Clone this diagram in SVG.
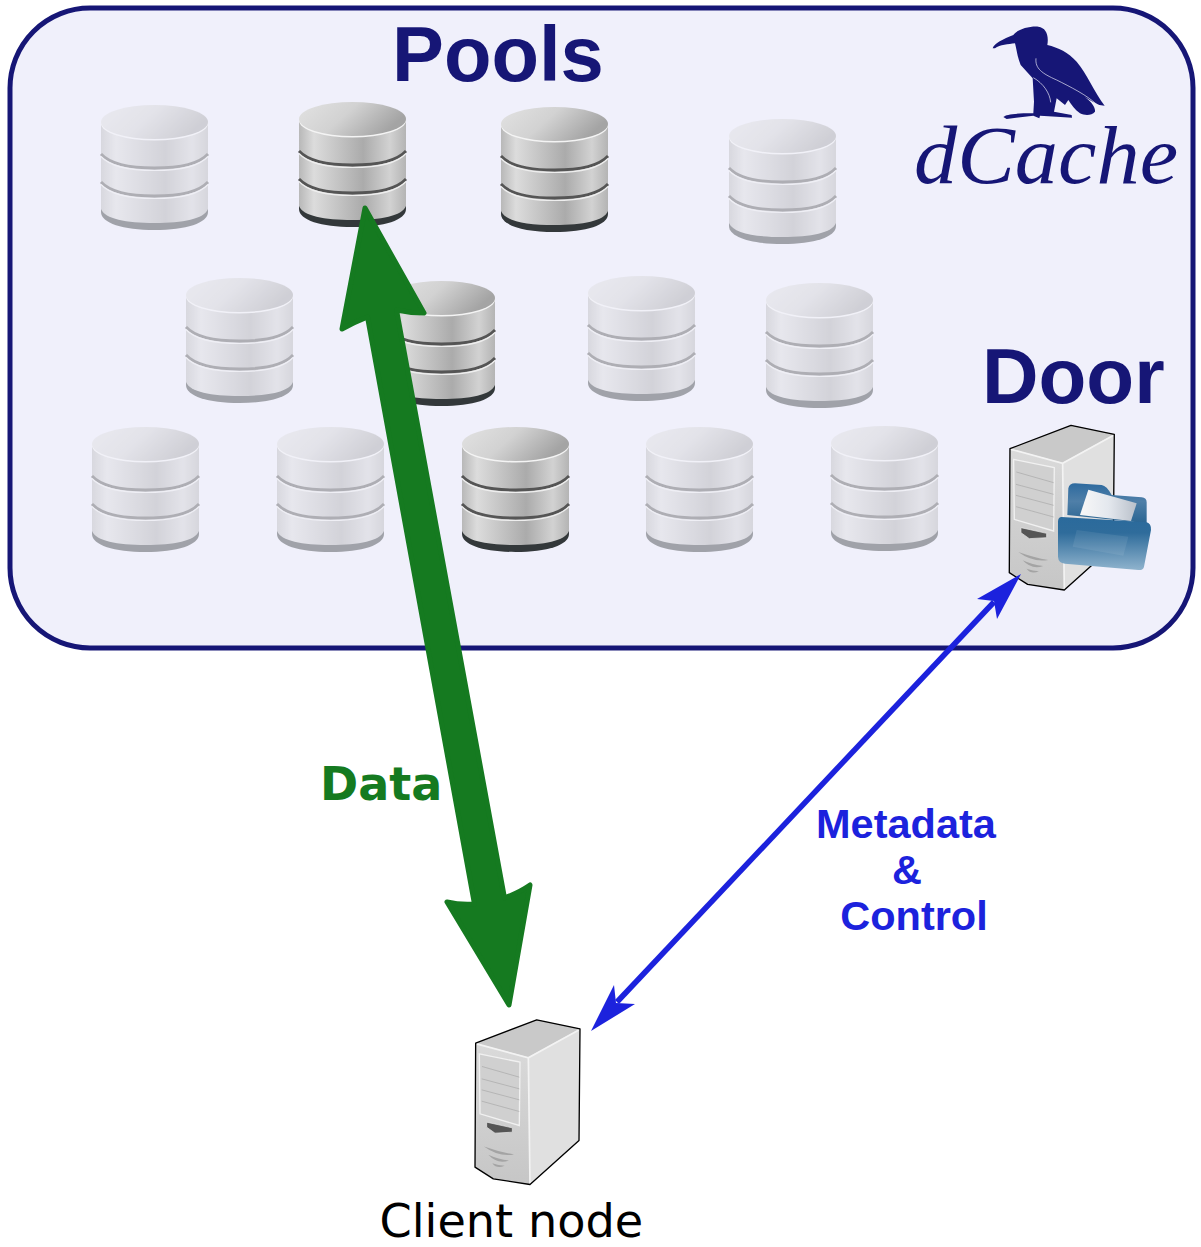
<svg xmlns="http://www.w3.org/2000/svg" width="1201" height="1247" viewBox="0 0 1201 1247">
<style>
.b{font-family:"Liberation Sans",Arial,sans-serif;font-weight:700}
.dj{font-family:"DejaVu Sans",sans-serif}
.light{opacity:.42}
.meta{fill:#1c22dd;font-size:41.5px;text-anchor:middle}
</style>
<defs>
<linearGradient id="side" x1="0" x2="1" y1="0" y2="0">
<stop offset="0" stop-color="#b8b8b8"/><stop offset=".14" stop-color="#dcdcdc"/><stop offset=".6" stop-color="#ababab"/><stop offset=".85" stop-color="#d2d2d2"/><stop offset="1" stop-color="#b4b4b4"/>
</linearGradient>
<linearGradient id="top" x1="0" x2="1" y1="0" y2=".35">
<stop offset="0" stop-color="#e2e2e2"/><stop offset=".5" stop-color="#d2d2d2"/><stop offset="1" stop-color="#a4a4a4"/>
</linearGradient>
<linearGradient id="front" x1="0" x2="0" y1="0" y2="1"><stop offset="0" stop-color="#dadada"/><stop offset="1" stop-color="#c6c6c6"/></linearGradient>
<linearGradient id="fold" x1="0" x2="0" y1="0" y2="1"><stop offset="0" stop-color="#2a6a9c"/><stop offset=".3" stop-color="#2f6c9b"/><stop offset="1" stop-color="#8fb3cd"/></linearGradient>
<linearGradient id="back" x1="0" x2="0" y1="0" y2="1"><stop offset="0" stop-color="#2d6a9f"/><stop offset=".45" stop-color="#4f7fa8"/><stop offset="1" stop-color="#2a6592"/></linearGradient>
<linearGradient id="paper" x1="0" x2="1" y1="0" y2="0"><stop offset="0" stop-color="#f8f8f8"/><stop offset=".5" stop-color="#e4e8ee"/><stop offset="1" stop-color="#b9c0ca"/></linearGradient>
<g id="db">
<path d="M0 107V18H107V107C107 118 85 125 53.500 125C22 125 0 118 0 107Z" fill="#33383a"/>
<path d="M0 18V104C4 114 25 118 53.500 118C82 118 103 114 107 104V18Z" fill="url(#side)"/>
<path d="M0 49C10 60 30 63 53.500 63C77 63 97 60 107 49" fill="none" stroke="#555" stroke-width="2.800"/>
<path d="M0 51.500C10 62.500 30 65.500 53.500 65.500C77 65.500 97 62.500 107 51.500" fill="none" stroke="#eee" stroke-width="1.200"/>
<path d="M0 77C10 88 30 91 53.500 91C77 91 97 88 107 77" fill="none" stroke="#555" stroke-width="2.800"/>
<path d="M0 79.500C10 90.500 30 93.500 53.500 93.500C77 93.500 97 90.500 107 79.500" fill="none" stroke="#eee" stroke-width="1.200"/>
<ellipse cx="53.500" cy="17" rx="53.500" ry="17" fill="#f4f4f4" transform="translate(0 1.500)"/>
<ellipse cx="53.500" cy="17" rx="53.500" ry="17" fill="url(#top)"/>
</g>
<g id="srv">
<path d="M47 98L230 28L360 55L357 390L210 522L100 505L45 470Z" fill="#d8d8d8"/>
<path d="M47 98L230 28L360 55L205 140Z" fill="#c9c9c9"/>
<path d="M205 140L360 55L357 390L210 522Z" fill="#e0e0e0"/>
<path d="M47 98L205 140L210 522L100 505L45 470Z" fill="url(#front)"/>
<path d="M50 100L205 142L358 58M205 142L210 520" fill="none" stroke="#f3f3f3" stroke-width="5"/>
<path d="M47 98L230 28L360 55L357 390L210 522L100 505L45 470Z" fill="none" stroke="#000" stroke-width="4" stroke-linejoin="round"/>
<path d="M58 130L180 155L178 345L60 310Z" fill="#d0d0d0" stroke="#f1f1f1" stroke-width="4"/>
<path d="M66 168L178 200M65 205L178 235M65 238L178 268M65 272L178 303" fill="none" stroke="#a8a8a8" stroke-width="2"/>
<path d="M80 335L157 352V365L105 368L80 350Z" fill="#555" stroke="#ececec" stroke-width="2"/>
<path d="M72 408Q120 425 162 432Q115 440 72 408ZM85 433Q115 447 147 450Q112 462 85 433ZM97 458Q115 465 134 466Q110 476 97 458Z" fill="#a4a4a4"/>
</g>
</defs>
<g id="pool-area"><rect x="10" y="8" width="1183" height="640" rx="80" ry="80" fill="#f0f0fb" stroke="#161676" stroke-width="5"/></g>
<g id="pool-1" class="light"><use href="#db" x="101" y="105"/></g>
<g id="pool-2"><use href="#db" x="299" y="102"/></g>
<g id="pool-3"><use href="#db" x="501" y="107"/></g>
<g id="pool-4" class="light"><use href="#db" x="729" y="119"/></g>
<g id="pool-5" class="light"><use href="#db" x="186" y="278"/></g>
<g id="pool-6"><use href="#db" x="388" y="281"/></g>
<g id="pool-7" class="light"><use href="#db" x="588" y="276"/></g>
<g id="pool-8" class="light"><use href="#db" x="766" y="283"/></g>
<g id="pool-9" class="light"><use href="#db" x="92" y="427"/></g>
<g id="pool-10" class="light"><use href="#db" x="277" y="427"/></g>
<g id="pool-11"><use href="#db" x="462" y="427"/></g>
<g id="pool-12" class="light"><use href="#db" x="646" y="427"/></g>
<g id="pool-13" class="light"><use href="#db" x="831" y="426"/></g>
<g id="logo">
<path transform="translate(900 15) scale(.33333)" d="M278 100C282 85 310 72 340 60C350 45 385 33 415 35C438 38 447 60 442 90C475 98 505 112 530 140C560 175 585 235 614 272L598 270C580 262 560 250 545 240C570 255 587 275 585 290C575 302 555 302 540 295C525 285 515 270 505 255L495 270L470 250L462 290L515 300L516 308L470 305L420 302L418 310L400 302L320 312L310 306C320 298 340 295 400 295L402 260L398 190L362 150C352 125 350 105 345 85C325 88 300 88 285 100Z" fill="#161676"/>
<path transform="translate(900 15) scale(.33333)" d="M408 130C405 160 425 175 470 195C510 215 560 240 590 268M400 188C430 205 450 235 452 262" fill="none" stroke="#f0f0fb" stroke-width="2"/>
<text x="914" y="183" font-family="'Liberation Serif','Times New Roman',serif" font-style="italic" font-size="82" fill="#161676" textLength="264" lengthAdjust="spacingAndGlyphs">dCache</text>
</g>
<g id="door-server">
<use href="#srv" transform="translate(994.300 416) scale(.33333)"/>
<g id="folder" transform="translate(990 415) scale(.33333)">
<path d="M232 300L235 220Q238 205 255 205L335 210Q350 212 365 240L455 247Q470 248 470 262V325Z" fill="url(#back)"/>
<path d="M295 224L440 265L423 318L270 300Z" fill="url(#paper)"/>
<path d="M215 306L470 322Q484 326 483 345L462 455Q460 466 445 465L225 446Q205 444 204 425V320Q204 306 215 306Z" fill="url(#fold)"/>
<path d="M260 345L415 365L400 422L248 395Z" fill="#fff" opacity=".08"/>
</g>
</g>
<g id="client-server"><use href="#srv" transform="translate(460 1010.500) scale(.33333)"/></g>
<g id="connectors">
<path d="M365 208L424 313Q410 313 396.500 310L504.500 898Q520 892 530 885L509 1005L447 902Q460 905 474.500 904L367.500 317Q355 322 342 329Z" fill="#157a20" stroke="#157a20" stroke-width="5" stroke-linejoin="round"/>
<path d="M1021 574L977 599L994 601L997 619Z" fill="#1c22dd"/>
<path d="M591 1031L614 985L616 1003L635 1004Z" fill="#1c22dd"/>
<path d="M994 602L617 1002" fill="none" stroke="#1c22dd" stroke-width="5.500"/>
</g>
<g id="labels">
<text class="b" x="392" y="81" font-size="77.800" fill="#161676">Pools</text>
<text class="b" x="982" y="402.500" font-size="78.300" fill="#161676">Door</text>
<text class="dj" x="320" y="800" font-size="46" font-weight="700" fill="#157a20">Data</text>
<text class="b meta" x="906" y="838">Metadata</text>
<text class="b meta" x="907" y="884">&amp;</text>
<text class="b meta" x="914" y="930">Control</text>
<text class="dj" x="379.500" y="1237" font-size="46.200" fill="#000">Client node</text>
</g>
</svg>
